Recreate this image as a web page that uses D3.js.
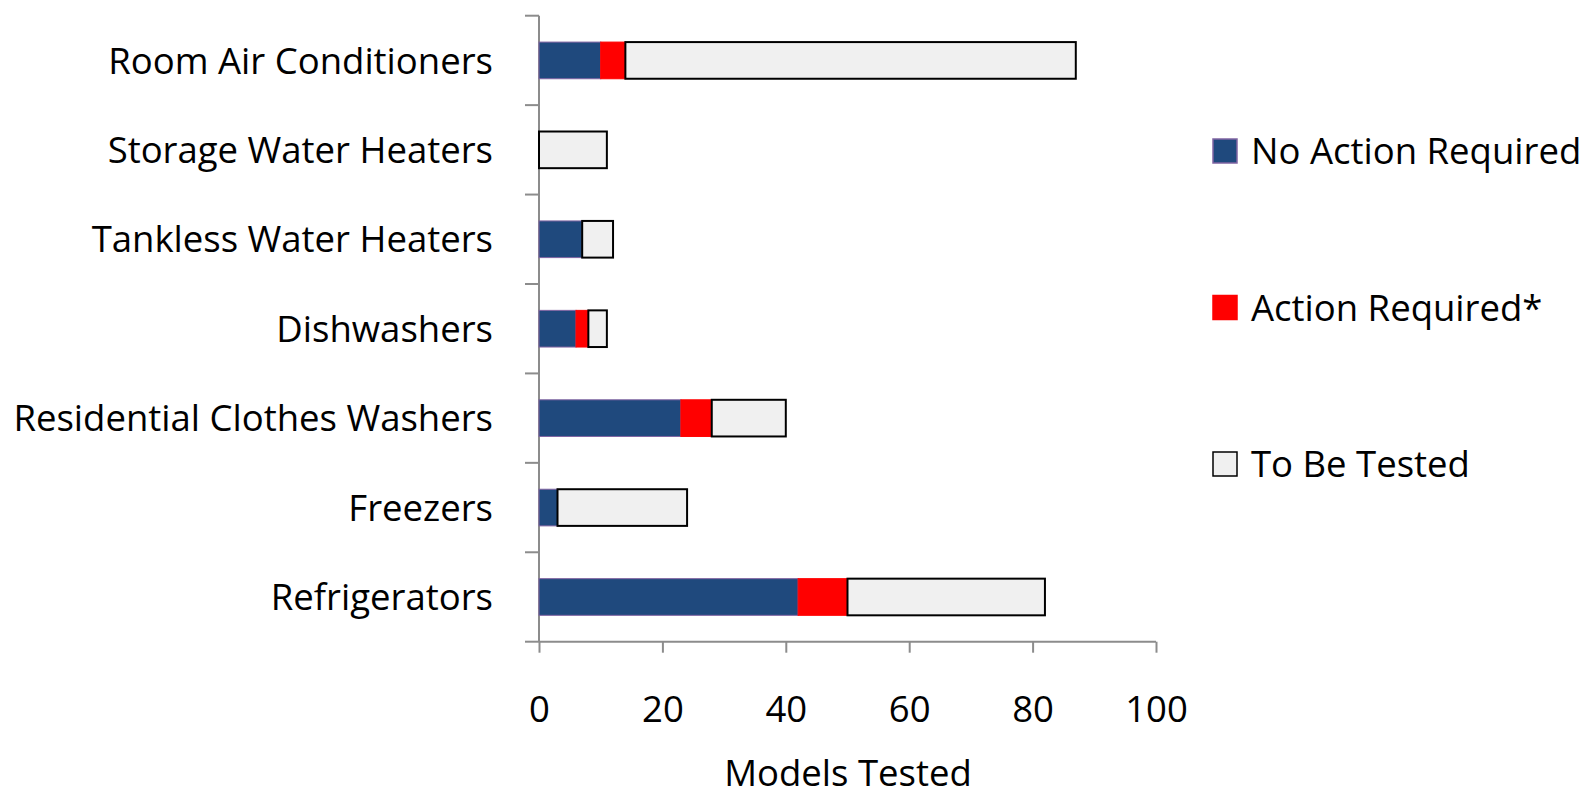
<!DOCTYPE html>
<html>
<head>
<meta charset="utf-8">
<script src="https://cdn.jsdelivr.net/npm/d3@7"></script>
<style>
  html, body { margin: 0; padding: 0; background: #fff; }
  svg { display: block; }
  text { font-family: "Open Sans", "Lato", sans-serif; fill: #000; }
</style>
</head>
<body>
<svg id="chart" width="1587" height="796"></svg>
<script>
// Appliance categories, top to bottom
const categories = [
  "Room Air Conditioners",
  "Storage Water Heaters",
  "Tankless Water Heaters",
  "Dishwashers",
  "Residential Clothes Washers",
  "Freezers",
  "Refrigerators"
];
// Model counts per series
const noActionRequired = [10, 0, 7, 6, 23, 3, 42];
const actionRequired   = [4, 0, 0, 2, 5, 0, 8];
const toBeTested       = [73, 11, 5, 3, 12, 21, 32];

const seriesNames = ["No Action Required", "Action Required*", "To Be Tested"];
const xTicks = [0, 20, 40, 60, 80, 100];
const xTitle = "Models Tested";

const fontSize = 36.5;

const svg = d3.select("#chart");
const margin = { left: 539, right: 1587 - 1156, top: 15.7, bottom: 796 - 641.7 };
const width = 1587 - margin.left - margin.right;
const height = 796 - margin.top - margin.bottom;

const g = svg.append("g").attr("transform", `translate(${margin.left},${margin.top})`);

const x = d3.scaleLinear().domain([0, 100]).range([0, width]);
const y = d3.scaleBand().domain(categories).range([0, height])
  .paddingInner(0.59).paddingOuter(0.295);

const styles = [
  { fill: "#1F497D", stroke: "#8064A2", sw: 1 },
  { fill: "#FF0000", stroke: "#FF0000", sw: 1 },
  { fill: "#F0F0F0", stroke: "#000000", sw: 2 }
];

const rows = categories.map((c, i) => ({
  cat: c, vals: [noActionRequired[i], actionRequired[i], toBeTested[i]]
}));
const stack = d3.stack().keys([0, 1, 2]).value((d, k) => d.vals[k]);
const stacked = stack(rows);

// Axes (grey, ticks outside)
const axisColor = "#8C8C8C";

// Category axis: ticks at band boundaries
const yAxisG = g.append("g");
const boundaries = d3.range(categories.length + 1).map(i => i * y.step());
yAxisG.append("line")
  .attr("x1", 0).attr("x2", 0).attr("y1", 0).attr("y2", height)
  .attr("stroke", axisColor).attr("stroke-width", 2);
yAxisG.selectAll("line.tick").data(boundaries).join("line")
  .attr("class", "tick")
  .attr("x1", -14).attr("x2", 0).attr("y1", d => d).attr("y2", d => d)
  .attr("stroke", axisColor).attr("stroke-width", 2);

// Value axis
const xAxis = d3.axisBottom(x).tickValues(xTicks).tickSize(11).tickPadding(43).tickFormat(d3.format("d"));
const xAxisG = g.append("g").attr("transform", `translate(0,${height})`).call(xAxis);
xAxisG.select(".domain").attr("stroke", axisColor).attr("stroke-width", 2)
  .attr("d", `M0,0H${width}`);
xAxisG.selectAll(".tick line").attr("stroke", axisColor).attr("stroke-width", 2);
xAxisG.selectAll(".tick text").attr("font-size", fontSize).attr("font-family", "Open Sans").attr("fill", "#000");

// Bars
stacked.forEach((layer, k) => {
  g.append("g").selectAll("rect").data(layer.filter(d => d[1] - d[0] > 0)).join("rect")
    .attr("x", d => x(d[0]))
    .attr("y", d => y(d.data.cat))
    .attr("width", d => x(d[1]) - x(d[0]))
    .attr("height", y.bandwidth())
    .attr("fill", styles[k].fill)
    .attr("stroke", styles[k].stroke)
    .attr("stroke-width", styles[k].sw);
});

// Category labels
g.append("g").selectAll("text").data(categories).join("text")
  .attr("x", -46)
  .attr("y", d => y(d) + y.bandwidth() / 2)
  .attr("dy", "0.36em")
  .attr("text-anchor", "end")
  .attr("font-size", fontSize)
  .text(d => d);

// Axis title
svg.append("text")
  .attr("x", 848).attr("y", 786)
  .attr("text-anchor", "middle").attr("font-size", fontSize)
  .text(xTitle);

// Legend
const legend = svg.append("g").attr("transform", "translate(1213,0)");
const legendY = [151, 307.5, 464];
seriesNames.forEach((name, k) => {
  const item = legend.append("g").attr("transform", `translate(0,${legendY[k]})`);
  item.append("rect").attr("x", 0).attr("y", -12).attr("width", 24).attr("height", 24)
    .attr("fill", styles[k].fill)
    .attr("stroke", k === 2 ? "#000" : styles[k].stroke)
    .attr("stroke-width", 1.5);
  item.append("text").attr("x", 38).attr("dy", "0.36em").attr("font-size", fontSize).text(name);
});
</script>
</body>
</html>
